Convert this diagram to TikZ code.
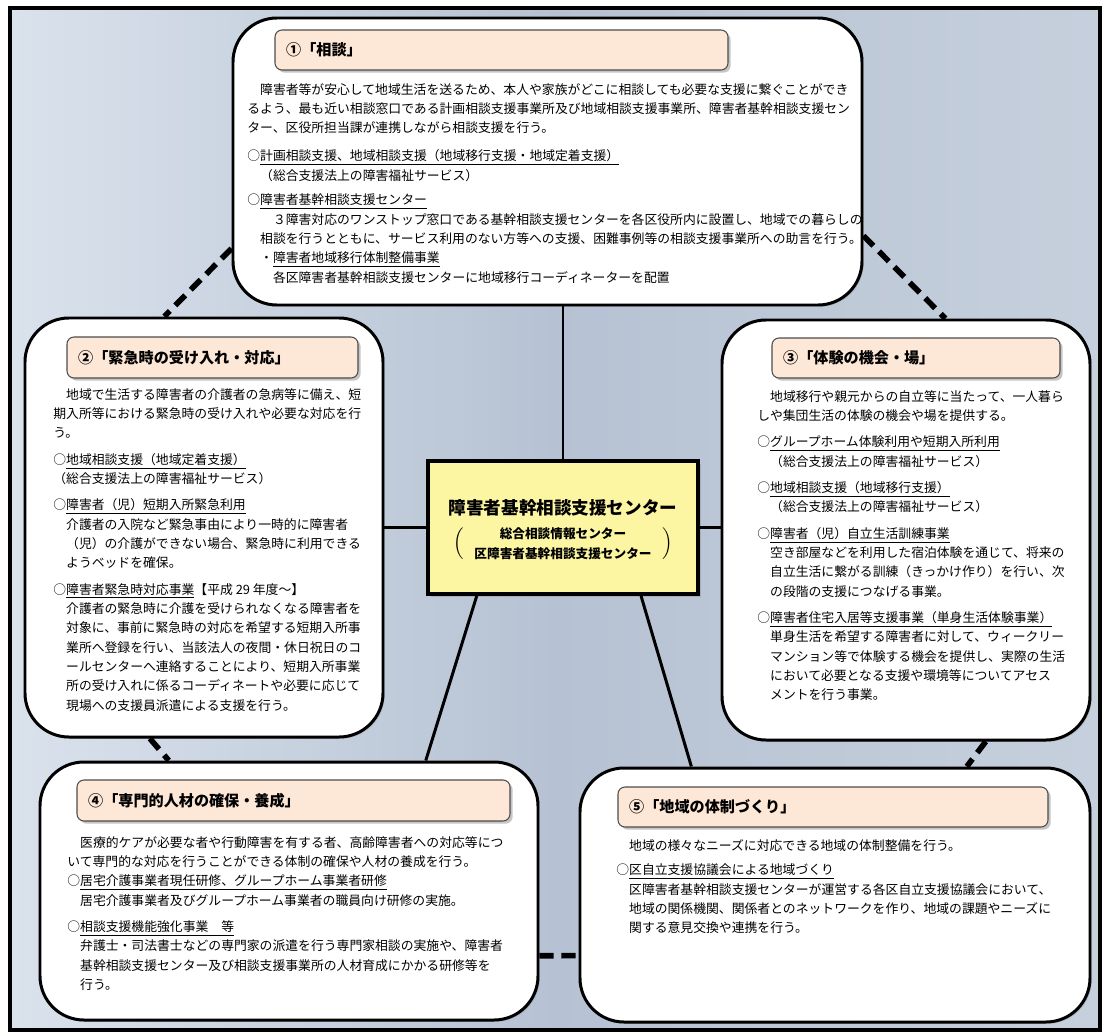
\documentclass[tikz,border=0pt]{standalone}
\usepackage{fontspec}
\setmainfont{Noto Sans CJK JP}
\usetikzlibrary{positioning,fit,calc,shadows}
\definecolor{bgleft}{HTML}{DAE2EC}
\definecolor{bgmid}{HTML}{B6C2D3}
\definecolor{bgright}{HTML}{C6D0DD}
\definecolor{peach}{HTML}{FDE7D6}
\definecolor{kiiro}{HTML}{FCF6A2}
\tikzset{
  bigbox/.style={draw, line width=1.7pt, fill=white, rounded corners=25pt, inner sep=0pt,
    drop shadow={shadow xshift=1pt, shadow yshift=-1pt, opacity=.3}},
  headbox/.style={draw=black!70, line width=.6pt, fill=peach, rounded corners=4pt, inner sep=0pt,
    drop shadow={shadow xshift=1.5pt, shadow yshift=-1.5pt, opacity=.45}},
  midbox/.style={draw, line width=2.2pt, fill=kiiro, inner sep=0pt, align=center,
    drop shadow={shadow xshift=1.5pt, shadow yshift=-1.5pt, opacity=.35}},
  title/.style={font=\fontsize{8.6pt}{10pt}\selectfont\bfseries, inner sep=0pt},
  body/.style={font=\fontsize{7.3pt}{11pt}\selectfont, align=left, inner sep=0pt, anchor=north west},
  link/.style={line width=1.7pt},
  dashlink/.style={line width=3.2pt, dash pattern=on 8pt off 4.5pt}
}
\begin{document}
\begin{tikzpicture}[x=0.02cm, y=-0.02cm]
\useasboundingbox (0,0) rectangle (1107,1035);
\shade[left color=bgleft, right color=bgright, middle color=bgmid] (10,8) rectangle (1100,1030);

% the five fields
\node[bigbox, fit={(233,18) (862,305)}] (soudan) {};
\node[bigbox, fit={(25,318) (383,737)}] (kinkyu) {};
\node[bigbox, fit={(722,320) (1090,740)}] (taiken) {};
\node[bigbox, fit={(40,762) (538,1020)}] (senmon) {};
\node[bigbox, fit={(580,768) (1090,1022)}] (chiiki) {};

% headers
\node[headbox, fit={(275,30) (728,70)}] (h1) {};
\node[headbox, fit={(67,337) (358,378)}] (h2) {};
\node[headbox, fit={(772,338) (1060,378)}] (h3) {};
\node[headbox, fit={(77,780) (510,821)}] (h4) {};
\node[headbox, fit={(618,787) (1048,827)}] (h5) {};
\node[title, right=6.5pt of h1.west] (t1) {①「相談」};
\node[title, right=6.5pt of h2.west] (t2) {②「緊急時の受け入れ・対応」};
\node[title, right=6.5pt of h3.west] (t3) {③「体験の機会・場」};
\node[title, right=6.5pt of h4.west] (t4) {④「専門的人材の確保・養成」};
\node[title, right=6.5pt of h5.west] (t5) {⑤「地域の体制づくり」};

% texts
\node[body] (b1) at (247,83) {　障害者等が安心して地域生活を送るため、本人や家族がどこに相談しても必要な支援に繋ぐことができ\\
るよう、最も近い相談窓口である計画相談支援事業所及び地域相談支援事業所、障害者基幹相談支援セン\\
ター、区役所担当課が連携しながら相談支援を行う。\\[5pt]
○\underline{計画相談支援、地域相談支援（地域移行支援・地域定着支援）}\\
　（総合支援法上の障害福祉サービス）\\[3pt]
○\underline{障害者基幹相談支援センター}\\
　　３障害対応のワンストップ窓口である基幹相談支援センターを各区役所内に設置し、地域での暮らしの\\
　相談を行うとともに、サービス利用のない方等への支援、困難事例等の相談支援事業所への助言を行う。\\
　・\underline{障害者地域移行体制整備事業}\\
　　各区障害者基幹相談支援センターに地域移行コーディネーターを配置};

\node[body] (b2) at (53,388) {　地域で生活する障害者の介護者の急病等に備え、短\\
期入所等における緊急時の受け入れや必要な対応を行\\
う。\\[4pt]
○\underline{地域相談支援（地域定着支援）}\\
（総合支援法上の障害福祉サービス）\\[4pt]
○\underline{障害者（児）短期入所緊急利用}\\
　介護者の入院など緊急事由により一時的に障害者\\
　（児）の介護ができない場合、緊急時に利用できる\\
　ようベッドを確保。\\[4pt]
○\underline{障害者緊急時対応事業}【平成 29 年度～】\\
　介護者の緊急時に介護を受けられなくなる障害者を\\
　対象に、事前に緊急時の対応を希望する短期入所事\\
　業所へ登録を行い、当該法人の夜間・休日祝日のコ\\
　ールセンターへ連絡することにより、短期入所事業\\
　所の受け入れに係るコーディネートや必要に応じて\\
　現場への支援員派遣による支援を行う。};

\node[body] (b3) at (757,390) {　地域移行や親元からの自立等に当たって、一人暮ら\\
しや集団生活の体験の機会や場を提供する。\\[4pt]
○\underline{グループホーム体験利用や短期入所利用}\\
　（総合支援法上の障害福祉サービス）\\[4pt]
○\underline{地域相談支援（地域移行支援）}\\
　（総合支援法上の障害福祉サービス）\\[4pt]
○\underline{障害者（児）自立生活訓練事業}\\
　空き部屋などを利用した宿泊体験を通じて、将来の\\
　自立生活に繋がる訓練（きっかけ作り）を行い、次\\
　の段階の支援につなげる事業。\\[4pt]
○\underline{障害者住宅入居等支援事業（単身生活体験事業）}\\
　単身生活を希望する障害者に対して、ウィークリー\\
　マンション等で体験する機会を提供し、実際の生活\\
　において必要となる支援や環境等についてアセス\\
　メントを行う事業。};

\node[body] (b4) at (67,836) {　医療的ケアが必要な者や行動障害を有する者、高齢障害者への対応等につ\\
いて専門的な対応を行うことができる体制の確保や人材の養成を行う。\\
○\underline{居宅介護事業者現任研修、グループホーム事業者研修}\\
　居宅介護事業者及びグループホーム事業者の職員向け研修の実施。\\[4pt]
○\underline{相談支援機能強化事業　等}\\
　弁護士・司法書士などの専門家の派遣を行う専門家相談の実施や、障害者\\
　基幹相談支援センター及び相談支援事業所の人材育成にかかる研修等を\\
　行う。};

\node[body] (b5) at (616,839) {　地域の様々なニーズに対応できる地域の体制整備を行う。\\[3pt]
○\underline{区自立支援協議会による地域づくり}\\
　区障害者基幹相談支援センターが運営する各区自立支援協議会において、\\
　地域の関係機関、関係者とのネットワークを作り、地域の課題やニーズに\\
　関する意見交換や連携を行う。};

% centre
\node[midbox, fit={(428,461) (698,594)}] (center) {};
\node[font=\fontsize{10pt}{13pt}\selectfont\bfseries, align=center, inner sep=0pt] (ctext) at (563,530) {障害者基幹相談支援センター\\[6pt]
$\left(\vcenter{\hbox{\hspace{6pt}\fontsize{7.2pt}{11.5pt}\selectfont\bfseries\vbox{\halign{\hfil#\hfil\cr 総合相談情報センター\cr 区障害者基幹相談支援センター\cr}}\hspace{6pt}}}\right)$};

% connectors
\draw[link] (center.north) -- (center.north |- soudan.south);
\draw[link] (center.west) -- (center.west -| kinkyu.east);
\draw[link] (center.east) -- (center.east -| taiken.west);
\draw[link] ($(center.south west)!.185!(center.south east)$) -- ($(senmon.north west)!.773!(senmon.north east)$);
\draw[link] ($(center.south west)!.785!(center.south east)$) -- ($(chiiki.north west)!.22!(chiiki.north east)$);
\draw[dashlink] ($(soudan.north west)!.80!(soudan.south west)$) -- ($(kinkyu.north west)!.39!(kinkyu.north east)$);
\draw[dashlink] ($(soudan.north east)!.756!(soudan.south east)$) -- ($(taiken.north west)!.606!(taiken.north east)$);
\draw[dashlink] ($(kinkyu.south west)!.35!(kinkyu.south east)$) -- ($(senmon.north west)!.26!(senmon.north east)$);
\draw[dashlink] ($(taiken.south west)!.715!(taiken.south east)$) -- ($(chiiki.north west)!.757!(chiiki.north east)$);
\draw[dashlink] ($(senmon.north east)!.748!(senmon.south east)$) -- ($(chiiki.north west)!.736!(chiiki.south west)$);

\draw[line width=2.3pt] (10,8) rectangle (1100,1030);
\end{tikzpicture}
\end{document}
